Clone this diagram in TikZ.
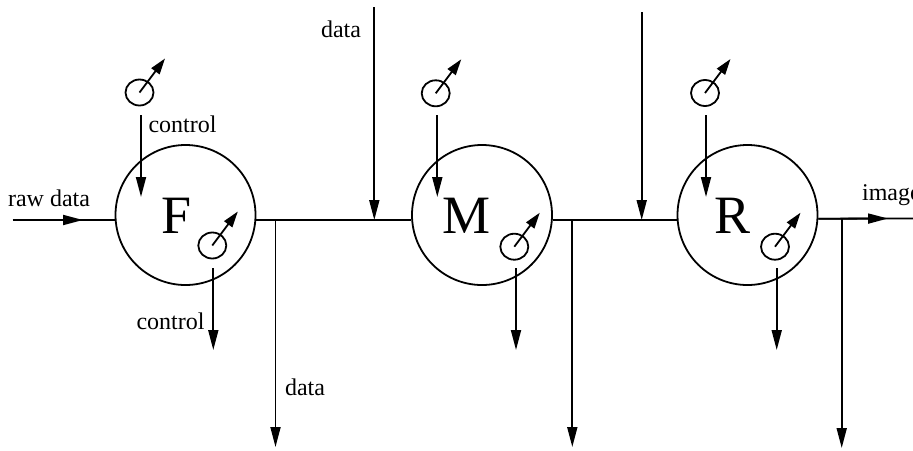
\documentclass[tikz,border=0pt]{standalone}
\usepackage{fontspec}
\setmainfont{Liberation Serif}
\usetikzlibrary{arrows.meta,shapes.geometric}
\begin{document}
\begin{tikzpicture}[x=0.5pt,y=-0.5pt,
  proc/.style={circle,draw,line width=0.9pt,minimum size=70pt,inner sep=0pt},
  meter/.style={ellipse,draw,line width=0.9pt,minimum width=14pt,minimum height=13pt,inner sep=0pt},
  big/.style={font=\fontsize{27}{27}\selectfont,inner sep=0pt,anchor=base},
  lbl/.style={font=\fontsize{12}{12}\selectfont,inner sep=0pt,anchor=base},
  flow/.style={line width=0.9pt},
  arr/.style={flow,-{Triangle[length=10pt,width=5pt]}},
  marr/.style={flow,-{Triangle[length=8pt,width=5pt]}}]
\useasboundingbox (0,0) rectangle (913,450);
\clip (0,0) rectangle (913,450);
% processes
\node[proc] (F) at (185.5,215) {};
\node[proc] (M) at (482,215) {};
\node[proc] (R) at (747.5,215) {};
\node[big] (Ft) at (177,233) {F};
\node[big] (Mt) at (466,233) {M};
\node[big] (Rt) at (732,233) {R};
% meters
\node[meter] (mF) at (139.5,92.5) {};
\node[meter] (mM) at (435.7,93.3) {};
\node[meter] (mR) at (705,93) {};
\node[meter] (bF) at (212.3,245.5) {};
\node[meter] (bM) at (514.3,246.7) {};
\node[meter] (bR) at (775,246.7) {};
\coordinate (mFa) at (165,58.5);
\coordinate (mMa) at (461.2,59.3);
\coordinate (mRa) at (730.5,59);
\coordinate (bFa) at (237.8,211.5);
\coordinate (bMa) at (539.8,212.7);
\coordinate (bRa) at (800.5,212.7);
\draw[marr] (mF.center) -- (mFa);
\draw[marr] (mM.center) -- (mMa);
\draw[marr] (mR.center) -- (mRa);
\draw[marr] (bF.center) -- (bFa);
\draw[marr] (bM.center) -- (bMa);
\draw[marr] (bR.center) -- (bRa);
% control arrows
\coordinate (cF1) at (141,115); \coordinate (cF2) at (141,197);
\coordinate (cM1) at (437.3,115); \coordinate (cM2) at (437.3,197);
\coordinate (cR1) at (706,115); \coordinate (cR2) at (706,197);
\draw[arr] (cF1) -- (cF2);
\draw[arr] (cM1) -- (cM2);
\draw[arr] (cR1) -- (cR2);
\coordinate (dF1) at (213.3,268); \coordinate (dF2) at (213.3,350);
\coordinate (dM1) at (516,268); \coordinate (dM2) at (516,350);
\coordinate (dR1) at (776.7,268); \coordinate (dR2) at (776.7,350);
\draw[arr] (dF1) -- (dF2);
\draw[arr] (dM1) -- (dM2);
\draw[arr] (dR1) -- (dR2);
% main data line
\coordinate (in) at (13,220); \coordinate (inA) at (83,220);
\draw[flow] (in) -- (F.184);
\draw[arr] (in) -- (inA);
\draw[flow] (F.-4) -- (M.184);
\draw[flow] (M.-4) -- (R.184);
\coordinate (out) at (913,218.5); \coordinate (outA) at (888,218.5);
\draw[flow] (R.-3) -- (out);
\draw[arr] (R.-3) -- (outA);
% branches down
\coordinate (j1) at (275.5,220); \coordinate (j1e) at (275.5,447);
\coordinate (j2) at (572.3,220); \coordinate (j2e) at (572.3,447);
\coordinate (j3) at (841.7,218.5); \coordinate (j3e) at (841.7,448);
\draw[arr] (j1) -- (j1e);
\draw[arr] (j2) -- (j2e);
\draw[arr] (j3) -- (j3e);
% data inputs from top
\coordinate (t1) at (374.3,7); \coordinate (t1e) at (374.3,220);
\coordinate (t2) at (641.7,12); \coordinate (t2e) at (641.7,220);
\draw[arr] (t1) -- (t1e);
\draw[arr] (t2) -- (t2e);
% labels
\node[lbl] (lraw) at (49,206) {raw data};
\node[lbl] (lc1) at (182.5,132.7) {control};
\node[lbl] (lc2) at (170.5,329.3) {control};
\node[lbl] (ld1) at (305,395) {data};
\node[lbl] (ld2) at (341,37.3) {data};
\node[lbl,anchor=base west] (limg) at (861.7,200) {image};
\end{tikzpicture}
\end{document}
